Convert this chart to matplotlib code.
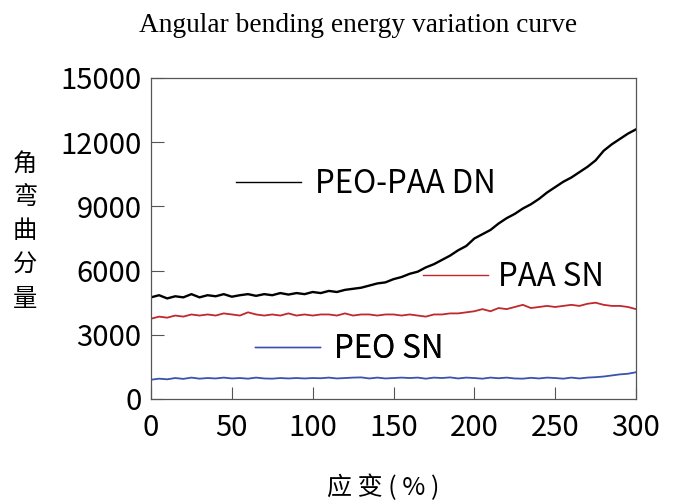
import matplotlib
matplotlib.use("Agg")
import matplotlib.pyplot as plt
from matplotlib.lines import Line2D

# =========================================================
# DATA
# =========================================================

strain = list(range(0, 301, 5))

peo_paa_dn = [4750, 4850, 4700, 4800, 4750, 4900, 4750, 4850, 4800, 4900,
              4780, 4850, 4900, 4820, 4900, 4850, 4950, 4880, 4950, 4900,
              5000, 4950, 5050, 5000, 5100, 5150, 5200, 5300, 5400, 5450,
              5600, 5700, 5850, 5950, 6150, 6300, 6500, 6700, 6950, 7150,
              7500, 7700, 7900, 8200, 8450, 8650, 8900, 9100, 9350, 9650,
              9900, 10150, 10350, 10600, 10850, 11150, 11600, 11900, 12150, 12400,
              12600]

paa_sn = [3750, 3850, 3800, 3900, 3850, 3950, 3900, 3950, 3900, 4000,
          3950, 3900, 4050, 3950, 3900, 3950, 3900, 4000, 3900, 3950,
          3900, 3950, 3950, 3900, 4000, 3900, 3950, 3950, 3900, 3950,
          3950, 3900, 3950, 3900, 3850, 3950, 3950, 4000, 4000, 4050,
          4100, 4200, 4100, 4250, 4200, 4300, 4400, 4250, 4300, 4350,
          4300, 4350, 4400, 4350, 4450, 4500, 4400, 4350, 4350, 4300,
          4200]

peo_sn = [900, 950, 920, 980, 940, 1000, 950, 980, 960, 1000,
          960, 980, 950, 1000, 960, 950, 980, 960, 980, 960,
          980, 970, 1000, 960, 980, 1000, 1010, 960, 1000, 960,
          980, 1000, 980, 1000, 950, 1000, 980, 1010, 960, 1000,
          980, 950, 1000, 970, 1000, 960, 950, 990, 960, 1000,
          980, 950, 1000, 960, 1000, 1020, 1050, 1100, 1150, 1180,
          1250]

x_ticks = [0, 50, 100, 150, 200, 250, 300]
y_ticks = [0, 3000, 6000, 9000, 12000, 15000]

# =========================================================
# PLOT
# =========================================================

plt.rcParams['font.family'] = ['Noto Sans CJK SC', 'DejaVu Sans']

fig = plt.figure(figsize=(6.73, 5.04), dpi=100)
ax = fig.add_axes([151 / 673, 1 - 399 / 504, 485 / 673, 321 / 504])

ax.plot(strain, peo_paa_dn, color="black", lw=1.7)
ax.plot(strain, paa_sn, color="#c0282c", lw=1.3)
ax.plot(strain, peo_sn, color="#3a52b0", lw=1.3)

ax.set_xlim(0, 300)
ax.set_ylim(0, 15000)
ax.set_xticks(x_ticks)
ax.set_yticks(y_ticks)
ax.tick_params(direction="in", length=9, width=0.8, color="#555555",
               labelsize=21)
ax.tick_params(axis="y", pad=7)
ax.tick_params(axis="x", pad=10)
for s in ax.spines.values():
    s.set_color("#555555")
    s.set_linewidth(0.9)

# separate legend entries placed inside the axes
entries = [
    ("PEO-PAA DN", "black", (0.175, 0.670), 0.45),
    ("PAA SN", "#c0282c", (0.561, 0.380), 0.32),
    ("PEO SN", "#3a52b0", (0.214, 0.156), 0.45),
]
for label, col, pos, gap in entries:
    h = Line2D([], [], color=col, lw=1.0)
    leg = ax.legend(handles=[h], labels=[label], loc="center left",
                    bbox_to_anchor=pos, frameon=False, fontsize=22.5,
                    handlelength=2.08, handletextpad=gap,
                    borderpad=0, borderaxespad=0)
    ax.add_artist(leg)

fig.text(358 / 673, 1 - 25 / 504, "Angular bending energy variation curve",
         family="Liberation Serif", fontsize=19.7, ha="center", va="center")
fig.text(25 / 673, 1 - 231 / 504, "角\n弯\n曲\n分\n量", fontsize=17.5,
         ha="center", va="center", linespacing=1.39)
fig.text(383 / 673, 1 - 488 / 504, "应 变 ( % )", fontsize=18,
         ha="center", va="center")

fig.savefig("out.png", dpi=100)
